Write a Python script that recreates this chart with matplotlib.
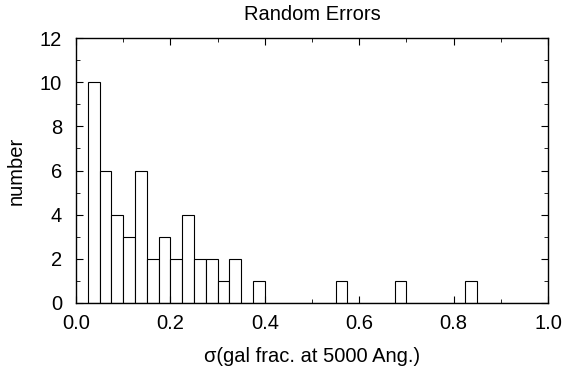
import numpy as np
import matplotlib.pyplot as plt
from matplotlib.ticker import MultipleLocator

plt.rcParams['font.family'] = ['Liberation Sans', 'DejaVu Sans']

# histogram bins of width 0.025 starting at 0.025
bin_left = np.arange(0.025, 1.0, 0.025)
counts = [10, 6, 4, 3, 6, 2, 3, 2, 4, 2, 2, 1, 2, 0, 1,
          0, 0, 0, 0, 0, 0, 1, 0, 0, 0, 0, 1, 0, 0, 0,
          0, 0, 1, 0, 0, 0, 0, 0, 0]
bin_width = 0.025

fs = 14.5

fig = plt.figure(figsize=(5.68, 3.73), dpi=100)
ax = fig.add_axes([0.1338, 0.1877, 0.831, 0.7103])

ax.bar(bin_left[:len(counts)], counts, width=bin_width, align='edge',
       facecolor='white', edgecolor='black', linewidth=0.8)

ax.set_xlim(0, 1.0)
ax.set_ylim(0, 12)
ax.xaxis.set_major_locator(MultipleLocator(0.2))
ax.xaxis.set_minor_locator(MultipleLocator(0.1))
ax.yaxis.set_major_locator(MultipleLocator(2))
ax.yaxis.set_minor_locator(MultipleLocator(1))
ax.xaxis.set_major_formatter(plt.FormatStrFormatter('%.1f'))
ax.tick_params(which='both', direction='in', top=True, right=True, labelsize=fs)
ax.tick_params(which='major', length=5)
ax.tick_params(which='minor', length=3)
ax.tick_params(axis='x', pad=8)
ax.tick_params(axis='y', pad=10)
for s in ax.spines.values():
    s.set_linewidth(1.0)

ax.set_title('Random Errors', fontsize=fs, pad=13)
ax.set_xlabel('σ(gal frac. at 5000 Ang.)', fontsize=fs, labelpad=10)
ax.set_ylabel('number', fontsize=fs, labelpad=10)

fig.savefig('out.png', dpi=100)
